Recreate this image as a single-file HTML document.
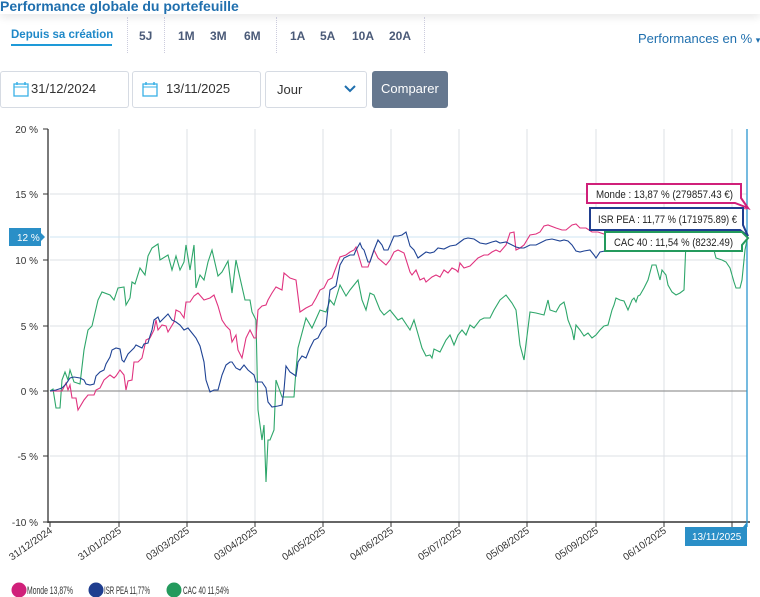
<!DOCTYPE html>
<html><head><meta charset="utf-8"><style>
body{margin:0;width:760px;height:597px;overflow:hidden;background:#fff;font-family:"Liberation Sans",sans-serif;position:relative}
.t{position:absolute;white-space:nowrap}
.box{position:absolute;border:1px solid #d6dbe3;border-radius:3px;background:#fff;height:35px;top:71px}
</style></head><body>
<div style="position:absolute;left:0;top:0;width:760px;height:14px;background:#fff;box-shadow:0 4px 8px rgba(0,0,0,0.08)"></div>
<div class="t" style="left:0;top:-2px;font-size:14px;font-weight:bold;color:#1f6fae">Performance globale du portefeuille</div>
<div class="t" style="left:11px;top:29px;font-size:11.5px;font-weight:bold;color:#1e88c8">Depuis sa création</div>
<div style="position:absolute;left:11px;top:44px;width:101px;height:2px;background:#1e9ad8"></div>
<div style="position:absolute;left:127px;top:17px;width:0;height:36px;border-left:1px dotted #ccd"></div>
<div style="position:absolute;left:164px;top:17px;width:0;height:36px;border-left:1px dotted #ccd"></div>
<div style="position:absolute;left:276px;top:17px;width:0;height:36px;border-left:1px dotted #ccd"></div>
<div style="position:absolute;left:424px;top:17px;width:0;height:36px;border-left:1px dotted #ccd"></div>
<div class="t" style="left:139px;top:29px;font-size:12px;font-weight:bold;color:#4a5a78">5J</div>
<div class="t" style="left:178px;top:29px;font-size:12px;font-weight:bold;color:#4a5a78">1M</div>
<div class="t" style="left:210px;top:29px;font-size:12px;font-weight:bold;color:#4a5a78">3M</div>
<div class="t" style="left:244px;top:29px;font-size:12px;font-weight:bold;color:#4a5a78">6M</div>
<div class="t" style="left:290px;top:29px;font-size:12px;font-weight:bold;color:#4a5a78">1A</div>
<div class="t" style="left:320px;top:29px;font-size:12px;font-weight:bold;color:#4a5a78">5A</div>
<div class="t" style="left:352px;top:29px;font-size:12px;font-weight:bold;color:#4a5a78">10A</div>
<div class="t" style="left:389px;top:29px;font-size:12px;font-weight:bold;color:#4a5a78">20A</div>
<div class="t" style="left:638px;top:31px;font-size:13px;color:#1f6fae">Performances en % <span style="font-size:9px">▾</span></div>

<div class="box" style="left:0;width:127px"></div>
<div class="box" style="left:132px;width:127px"></div>
<div class="box" style="left:265px;width:100px"></div>
<div style="position:absolute;left:372px;top:71px;width:76px;height:37px;background:#66788f;border-radius:3px"></div>
<svg style="position:absolute;left:13px;top:81px" width="16" height="16"><rect x="1" y="3" width="14" height="12" fill="none" stroke="#3ab0e6" stroke-width="1.3"/><line x1="1" y1="6" x2="15" y2="6" stroke="#3ab0e6"/><line x1="4" y1="1" x2="4" y2="4" stroke="#3ab0e6" stroke-width="1.5"/><line x1="12" y1="1" x2="12" y2="4" stroke="#3ab0e6" stroke-width="1.5"/></svg>
<svg style="position:absolute;left:142px;top:81px" width="16" height="16"><rect x="1" y="3" width="14" height="12" fill="none" stroke="#3ab0e6" stroke-width="1.3"/><line x1="1" y1="6" x2="15" y2="6" stroke="#3ab0e6"/><line x1="4" y1="1" x2="4" y2="4" stroke="#3ab0e6" stroke-width="1.5"/><line x1="12" y1="1" x2="12" y2="4" stroke="#3ab0e6" stroke-width="1.5"/></svg>
<div class="t" style="left:31px;top:81px;font-size:13px;color:#333">31/12/2024</div>
<div class="t" style="left:166px;top:81px;font-size:13px;color:#333">13/11/2025</div>
<div class="t" style="left:277px;top:82px;font-size:13px;color:#333">Jour</div>
<svg style="position:absolute;left:344px;top:85px" width="12" height="8"><polyline points="1,1 6,6 11,1" fill="none" stroke="#1f6fae" stroke-width="2"/></svg>
<div class="t" style="left:381px;top:81px;font-size:13px;color:#fff">Comparer</div>

<svg style="position:absolute;left:0;top:0" width="760" height="597" font-family="Liberation Sans, sans-serif">
<g stroke="#dde1e6" stroke-width="1">
<line x1="50" y1="194" x2="747" y2="194"/><line x1="50" y1="260" x2="747" y2="260"/><line x1="50" y1="326" x2="747" y2="326"/><line x1="50" y1="456" x2="747" y2="456"/>
<line x1="119" y1="129" x2="119" y2="522"/><line x1="187" y1="129" x2="187" y2="522"/><line x1="255" y1="129" x2="255" y2="522"/><line x1="323" y1="129" x2="323" y2="522"/><line x1="391" y1="129" x2="391" y2="522"/><line x1="459" y1="129" x2="459" y2="522"/><line x1="527" y1="129" x2="527" y2="522"/><line x1="596" y1="129" x2="596" y2="522"/><line x1="664" y1="129" x2="664" y2="522"/><line x1="732" y1="129" x2="732" y2="522"/>
</g>
<line x1="50" y1="237" x2="747" y2="237" stroke="#cfe6f3"/>
<line x1="50" y1="391" x2="747" y2="391" stroke="#999" stroke-width="1.2"/>
<line x1="48" y1="129" x2="48" y2="523" stroke="#333" stroke-width="1.3"/>
<line x1="48" y1="522" x2="750" y2="522" stroke="#333" stroke-width="1.5"/>
<g stroke="#333"><line x1="43" y1="129" x2="48" y2="129"/><line x1="43" y1="194" x2="48" y2="194"/><line x1="43" y1="260" x2="48" y2="260"/><line x1="43" y1="326" x2="48" y2="326"/><line x1="43" y1="391" x2="48" y2="391"/><line x1="43" y1="456" x2="48" y2="456"/><line x1="43" y1="522" x2="48" y2="522"/></g>
<g font-size="10" fill="#333" text-anchor="end">
<text x="38" y="133">20 %</text><text x="38" y="198">15 %</text><text x="38" y="264">10 %</text><text x="38" y="330">5 %</text><text x="38" y="395">0 %</text><text x="38" y="460">-5 %</text><text x="38" y="526">-10 %</text>
</g>
<g stroke="#333"><line x1="50" y1="522" x2="50" y2="527"/><line x1="119" y1="522" x2="119" y2="527"/><line x1="187" y1="522" x2="187" y2="527"/><line x1="255" y1="522" x2="255" y2="527"/><line x1="323" y1="522" x2="323" y2="527"/><line x1="391" y1="522" x2="391" y2="527"/><line x1="459" y1="522" x2="459" y2="527"/><line x1="527" y1="522" x2="527" y2="527"/><line x1="596" y1="522" x2="596" y2="527"/><line x1="664" y1="522" x2="664" y2="527"/><line x1="732" y1="522" x2="732" y2="527"/></g>
<g font-size="10" fill="#333" text-anchor="end">
<text transform="translate(53,532) rotate(-35)">31/12/2024</text>
<text transform="translate(122,532) rotate(-35)">31/01/2025</text>
<text transform="translate(190,532) rotate(-35)">03/03/2025</text>
<text transform="translate(258,532) rotate(-35)">03/04/2025</text>
<text transform="translate(326,532) rotate(-35)">04/05/2025</text>
<text transform="translate(394,532) rotate(-35)">04/06/2025</text>
<text transform="translate(462,532) rotate(-35)">05/07/2025</text>
<text transform="translate(530,532) rotate(-35)">05/08/2025</text>
<text transform="translate(599,532) rotate(-35)">05/09/2025</text>
<text transform="translate(667,532) rotate(-35)">06/10/2025</text>
</g>
<line x1="747" y1="129" x2="747" y2="527" stroke="#2b96d0" stroke-width="1.3"/>

<polyline fill="none" stroke="#2ea66a" stroke-width="1.1" points="50,391 53,389 56,408 60,408 62,380 65,372 68,380 70,370 74,382 80,384 84,350 88,330 92,326 98,300 102,292 110,295 114,300 118,288 124,287 126,305 130,298 132,282 135,284 140,268 145,275 148,256 152,248 158,244 160,260 168,255 172,270 176,256 180,270 184,262 186,245 190,270 194,245 196,288 200,275 204,280 208,262 212,250 218,276 222,272 228,261 232,293 236,260 240,278 245,300 250,300 252,312 256,320 258,410 262,440 264,425 266,482 268,440 270,440 274,430 276,380 282,397 294,397 296,370 298,348 306,318 312,328 320,310 326,312 330,300 334,305 340,285 346,296 350,290 358,280 362,300 366,310 370,293 374,295 380,310 384,315 390,310 398,320 402,318 410,330 414,320 418,334 422,348 426,356 430,355 432,358 434,349 440,352 446,340 450,335 454,345 458,335 462,330 466,335 470,325 474,328 480,320 484,318 490,318 494,310 500,300 506,295 512,303 516,310 520,345 524,360 530,312 536,313 544,315 548,300 550,310 556,312 560,305 564,302 566,310 568,320 572,330 574,340 576,325 580,330 584,336 588,333 592,338 596,335 600,330 604,326 608,325 612,310 614,305 616,298 620,300 624,301 628,310 632,300 634,298 636,302 638,296 640,295 644,288 648,280 652,265 656,265 660,280 662,270 666,275 668,285 672,292 676,295 680,293 684,290 686,242 690,235 700,238 710,235 716,258 722,260 726,262 730,268 734,282 736,288 740,288 742,280 745,250 747,240"/>
<polyline fill="none" stroke="#e0337f" stroke-width="1.1" points="50,391 62,391 66,383 68,390 70,385 72,398 76,398 78,410 84,400 88,395 94,395 96,390 100,388 104,380 110,375 114,378 116,376 120,370 124,375 126,390 128,381 132,380 134,362 138,362 142,358 146,340 150,338 154,330 156,320 158,330 162,325 166,326 168,332 174,322 176,310 180,312 184,318 186,302 190,302 194,296 198,293 204,300 210,298 214,295 218,306 222,320 226,326 230,330 232,342 236,335 238,350 242,358 246,338 250,330 254,338 256,338 258,310 262,306 266,305 268,300 272,293 276,287 282,290 284,273 290,278 296,280 300,312 306,308 312,305 316,298 320,290 324,288 328,280 332,278 340,257 346,255 350,252 354,250 356,247 362,267 368,267 374,250 378,258 386,265 390,260 394,252 398,250 404,253 410,272 412,275 416,270 420,280 424,278 426,282 432,277 436,275 440,277 444,270 448,273 452,268 456,270 458,272 460,263 464,268 470,266 474,262 478,258 484,255 488,255 492,252 496,250 500,252 506,245 510,233 514,232 516,250 520,248 524,245 530,235 536,234 540,232 544,226 548,225 556,228 562,230 566,230 572,225 576,224 580,228 586,228 592,232 598,232 604,234 610,232 620,229 630,232 640,230 650,228 660,226 670,222 680,220 690,222 700,218 710,215 720,212 730,210 740,208 747,209"/>
<polyline fill="none" stroke="#1f4394" stroke-width="1.1" points="50,391 56,390 62,388 66,384 70,378 74,377 80,378 84,380 86,384 90,385 94,384 96,376 100,372 104,370 106,364 110,357 112,350 116,348 120,349 122,360 124,362 128,354 132,350 134,348 136,345 138,346 142,348 144,344 148,343 150,336 152,330 154,320 158,317 160,322 164,318 168,314 172,320 176,322 180,325 184,330 188,328 192,333 196,338 200,346 204,362 206,380 210,392 214,390 218,390 222,375 226,365 230,362 232,362 236,368 240,370 244,365 248,370 254,375 256,382 262,382 266,388 268,402 272,407 278,406 282,405 284,390 286,366 290,372 296,376 298,362 302,356 306,358 310,348 314,340 318,338 322,330 326,326 330,290 336,286 340,265 344,258 350,255 354,255 356,250 360,243 362,248 364,250 368,262 370,262 374,250 378,240 382,245 384,250 388,250 394,236 398,236 402,235 406,232 410,246 414,250 418,258 422,255 426,252 430,253 434,252 438,248 444,249 450,246 456,245 460,242 464,239 468,238 474,239 480,243 486,244 492,242 496,241 500,243 506,242 510,244 516,247 520,248 524,248 530,245 536,245 540,243 546,240 552,239 560,241 564,240 568,241 572,245 576,251 580,252 584,251 590,250 594,255 596,258 600,252 610,250 620,248 630,246 640,244 650,243 660,242 670,240 680,241 690,240 700,242 710,240 720,238 730,236 740,236 747,237"/>

<polygon points="587,184 741,184 741,198 748,208 735,203 587,203" fill="#fff" stroke="#d0207a" stroke-width="2"/>
<text x="596" y="198" font-size="11" fill="#222" textLength="137" lengthAdjust="spacingAndGlyphs">Monde : 13,87 % (279857.43 €)</text>
<polygon points="590,208 743,208 743,225 748,236 740,230 590,230" fill="#fff" stroke="#1f3e8f" stroke-width="2"/>
<text x="598" y="223" font-size="11" fill="#222" textLength="139" lengthAdjust="spacingAndGlyphs">ISR PEA : 11,77 % (171975.89) €</text>
<polygon points="605,232 742,232 748,238 742,245 742,251 605,251" fill="#fff" stroke="#249a5d" stroke-width="2"/>
<text x="614" y="246" font-size="11" fill="#222" textLength="119" lengthAdjust="spacingAndGlyphs">CAC 40 : 11,54 % (8232.49)</text>

<polygon points="9,228 41,228 41,233 45,237 41,241 41,246 9,246" fill="#2a8fc7"/>
<text x="17" y="241" font-size="10" fill="#fff">12 %</text>
<polygon points="685,527 743,527 747,522 747,546 685,546" fill="#2a8fc7"/>
<text x="692" y="540" font-size="10" fill="#fff">13/11/2025</text>

<circle cx="19" cy="590" r="7.5" fill="#d0207a"/><text x="27" y="594" font-size="11" fill="#333" textLength="46" lengthAdjust="spacingAndGlyphs">Monde 13,87%</text>
<circle cx="96" cy="590" r="7.5" fill="#1f3e8f"/><text x="104" y="594" font-size="11" fill="#333" textLength="46" lengthAdjust="spacingAndGlyphs">ISR PEA 11,77%</text>
<circle cx="174" cy="590" r="7.5" fill="#249a5d"/><text x="183" y="594" font-size="11" fill="#333" textLength="46" lengthAdjust="spacingAndGlyphs">CAC 40 11,54%</text>
</svg>
</body></html>
